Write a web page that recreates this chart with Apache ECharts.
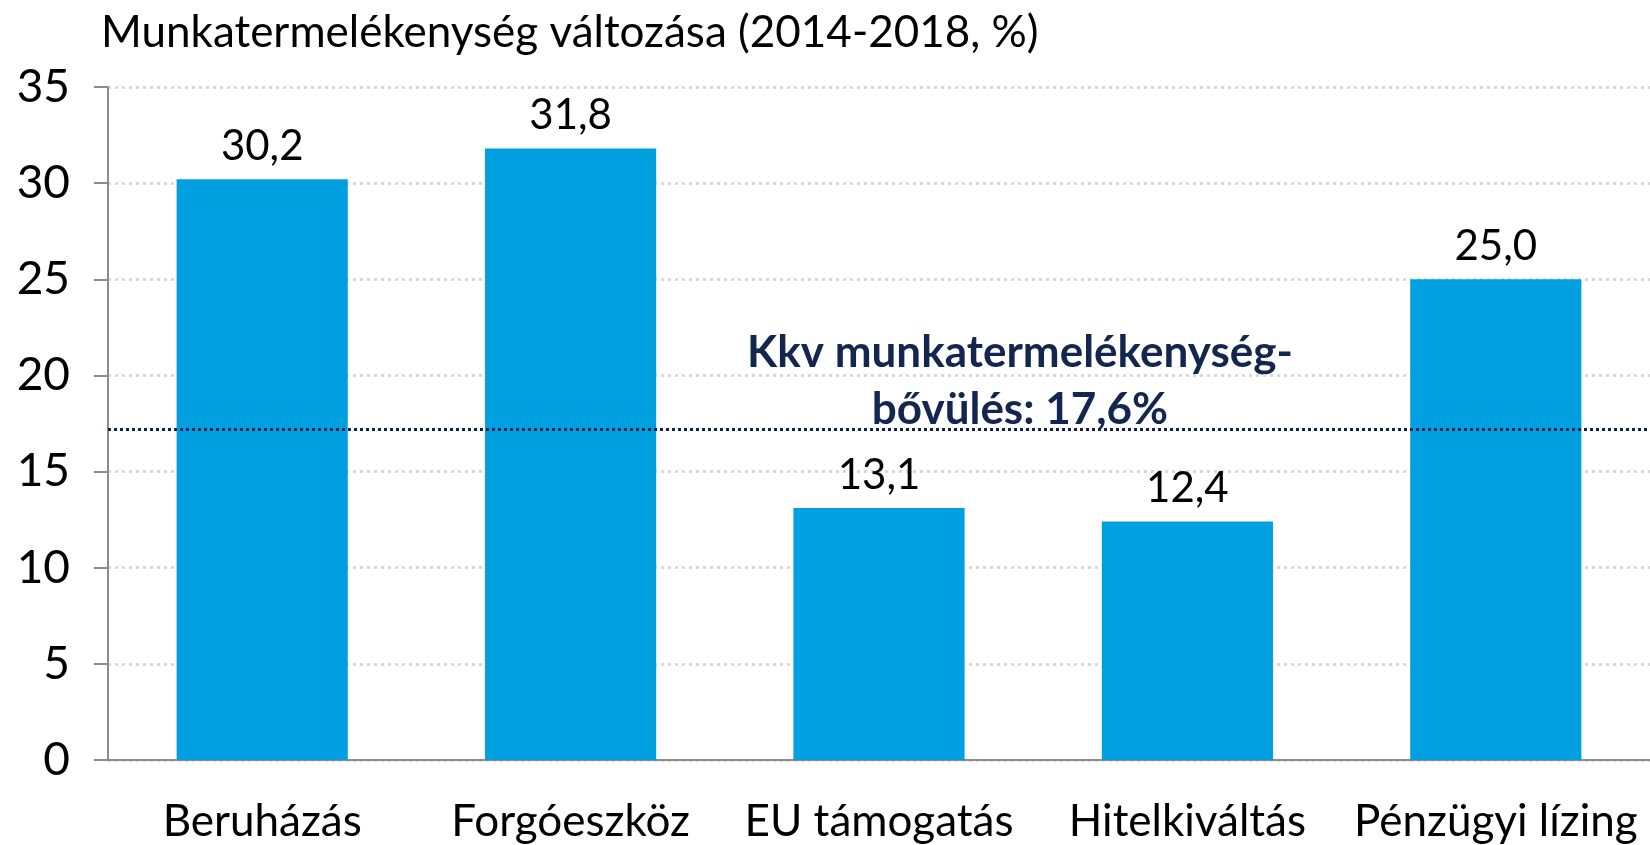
<!DOCTYPE html>
<html>
<head>
<meta charset="utf-8">
<script src="https://cdn.jsdelivr.net/npm/echarts@6/dist/echarts.min.js"></script>
<style>
  html, body { margin: 0; padding: 0; background: #fff; }
  #chart { width: 1650px; height: 845px; }
</style>
</head>
<body>
<div id="chart"></div>
<script>
const categories = ['Beruházás', 'Forgóeszköz', 'EU támogatás', 'Hitelkiváltás', 'Pénzügyi lízing'];
const values = [30.2, 31.8, 13.1, 12.4, 25.0];
const yTicks = [0, 5, 10, 15, 20, 25, 30, 35];
// reference line as drawn in the picture, and its caption
const avgLine = 17.2;
const avgText = 'Kkv munkatermelékenység-\nbővülés: 17,6%';
const titleText = 'Munkatermelékenység változása (2014-2018, %)';

const font = 'Lato, "Open Sans", sans-serif';
const fmt = v => v.toFixed(1).replace('.', ',');

var dom = document.getElementById('chart');
var myChart = echarts.init(dom);

const option = {
    animation: false,
    title: {
        text: titleText,
        left: 96,
        top: 6,
        textStyle: { fontFamily: font, fontSize: 44, fontWeight: 'normal', color: '#000' }
    },
    grid: { left: 108, right: -5, top: 87, bottom: 85 },
    xAxis: {
        type: 'category',
        data: categories,
        axisLine: { lineStyle: { color: '#8c8c8c', width: 2 } },
        axisTick: { show: false },
        axisLabel: { interval: 0, fontFamily: font, fontSize: 44, color: '#000', margin: 40 }
    },
    yAxis: {
        type: 'value',
        min: yTicks[0],
        max: yTicks[yTicks.length - 1],
        interval: 5,
        axisLine: { show: true, lineStyle: { color: '#8c8c8c', width: 2 } },
        axisTick: { show: true, length: 14, lineStyle: { color: '#8c8c8c', width: 2 } },
        axisLabel: { fontFamily: font, fontSize: 46, color: '#000', margin: 38 },
        splitLine: { lineStyle: { color: '#d9d9d9', width: 3, type: [3, 4] } }
    },
    series: [{
        type: 'bar',
        data: values,
        barWidth: '55.5%',
        itemStyle: { color: '#009fdf' },
        label: {
            show: true,
            position: 'top',
            distance: 12,
            formatter: p => fmt(p.value),
            fontFamily: font, fontSize: 42, color: '#000'
        },
        markLine: {
            silent: true,
            symbol: ['none', 'none'],
            label: { show: false },
            lineStyle: { color: '#0f2350', width: 3, type: [3, 3] },
            data: [{ yAxis: avgLine }]
        }
    }],
    graphic: [{
        type: 'text',
        x: 1020,
        y: 324,
        style: {
            text: avgText,
            align: 'center',
            verticalAlign: 'top',
            fontFamily: font,
            fontSize: 44,
            fontWeight: 'bold',
            lineHeight: 57,
            fill: '#13264f'
        }
    }]
};
myChart.setOption(option);
</script>
</body>
</html>
